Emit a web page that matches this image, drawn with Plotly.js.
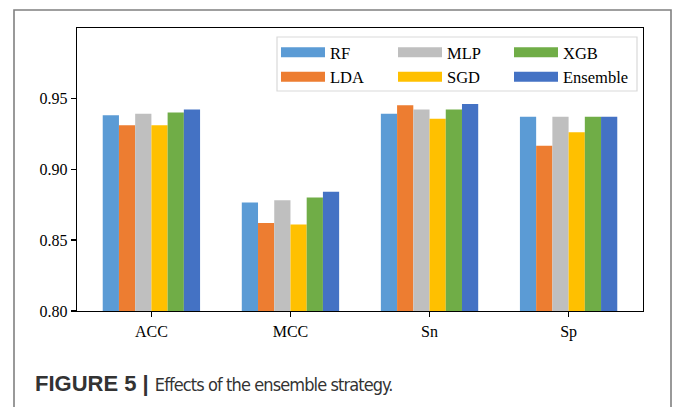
<!DOCTYPE html>
<html>
<head>
<meta charset="utf-8">
<script src="https://cdn.plot.ly/plotly-3.0.1.min.js"></script>
<style>html,body{margin:0;padding:0;background:#fff;}#chart{width:674px;height:407px;}</style>
</head>
<body>
<div id="chart"></div>
<script>
const categories = ["ACC", "MCC", "Sn", "Sp"];
const seriesNames = ["RF", "LDA", "MLP", "SGD", "XGB", "Ensemble"];
const RF       = [0.938, 0.8765, 0.939, 0.937];
const LDA      = [0.931, 0.862, 0.945, 0.9165];
const MLP      = [0.939, 0.878, 0.942, 0.937];
const SGD      = [0.931, 0.861, 0.9355, 0.926];
const XGB      = [0.940, 0.880, 0.942, 0.937];
const Ensemble = [0.942, 0.884, 0.946, 0.937];
const yTickVals = [0.80, 0.85, 0.90, 0.95];
const yTickText = ["0.80", "0.85", "0.90", "0.95"];

const seriesValues = [RF, LDA, MLP, SGD, XGB, Ensemble];
const colors = ["#5B9BD5", "#ED7D31", "#BFBFBF", "#FFC000", "#70AD47", "#4472C4"];
const legendOf = ["legend", "legend", "legend2", "legend2", "legend3", "legend3"];

const serif = "Liberation Serif, Times New Roman, serif";
const traces = [];
seriesNames.forEach((n, i) => {
  traces.push({
    type: "bar", name: n, x: categories, y: seriesValues[i],
    marker: {color: colors[i], line: {width: 0}},
    showlegend: false, legendgroup: n, hoverinfo: "x+y+name"
  });
});
seriesNames.forEach((n, i) => {
  traces.push({
    type: "scatter", mode: "lines", name: n, x: [null], y: [null],
    line: {color: colors[i], width: 10},
    legend: legendOf[i], legendgroup: n, showlegend: true, hoverinfo: "skip"
  });
});

const L = 77, R = 31, T = 28, B = 96, W = 674, H = 407;
const pw = W - L - R, ph = H - T - B;
const px = v => (v - L) / pw;
const py = v => (H - B - v) / ph;

const legendBase = {
  yanchor: "top", xanchor: "left", orientation: "v",
  bgcolor: "rgba(0,0,0,0)", borderwidth: 0, itemwidth: 44,
  font: {family: serif, size: 16.5, color: "#000"}, tracegroupgap: 0
};

const layout = {
  width: W, height: H,
  margin: {l: L, r: R, t: T, b: B, pad: 0},
  paper_bgcolor: "#fff", plot_bgcolor: "#fff",
  barmode: "group", bargap: 0.3, bargroupgap: 0,
  font: {family: serif, size: 15, color: "#000"},
  xaxis: {
    type: "category", range: [-0.535, 3.535],
    showline: true, mirror: true, linecolor: "#000", linewidth: 1.3,
    ticks: "outside", ticklen: 5, tickwidth: 1.2, tickcolor: "#000",
    showgrid: false, zeroline: false,
    tickfont: {family: serif, size: 16, color: "#000"}
  },
  yaxis: {
    range: [0.80, 0.9995],
    tickvals: yTickVals, ticktext: yTickText,
    showline: true, mirror: true, linecolor: "#000", linewidth: 1.3,
    ticks: "outside", ticklen: 5, tickwidth: 1.2, tickcolor: "#000",
    showgrid: false, zeroline: false,
    tickfont: {family: serif, size: 16, color: "#000"}
  },
  legend:  Object.assign({}, legendBase, {x: px(276), y: py(35)}),
  legend2: Object.assign({}, legendBase, {x: px(393), y: py(35)}),
  legend3: Object.assign({}, legendBase, {x: px(509), y: py(35)}),
  shapes: [
    {type: "rect", xref: "paper", yref: "paper",
     x0: px(277), x1: px(637), y0: py(91), y1: py(37),
     line: {color: "#D9D9D9", width: 1.2}, fillcolor: "rgba(255,255,255,0.8)", layer: "below"},
    {type: "rect", xref: "paper", yref: "paper",
     x0: px(14), x1: px(671), y0: py(420), y1: py(10),
     line: {color: "#808080", width: 1.6}, fillcolor: "rgba(0,0,0,0)"}
  ],
  annotations: [
    {xref: "paper", yref: "paper", x: px(33), y: py(383), xanchor: "left", yanchor: "middle",
     showarrow: false, align: "left",
     text: "<b>FIGURE 5 |</b> <span style=\"font-family:'DejaVu Sans Condensed','Liberation Sans Narrow',sans-serif;font-size:18px;letter-spacing:-0.9px\">Effects of the ensemble strategy.</span>",
     font: {family: "Liberation Sans, Arial, sans-serif", size: 22, color: "#333"}}
  ]
};

Plotly.newPlot("chart", traces, layout, {displayModeBar: false, staticPlot: true});
</script>
</body>
</html>
